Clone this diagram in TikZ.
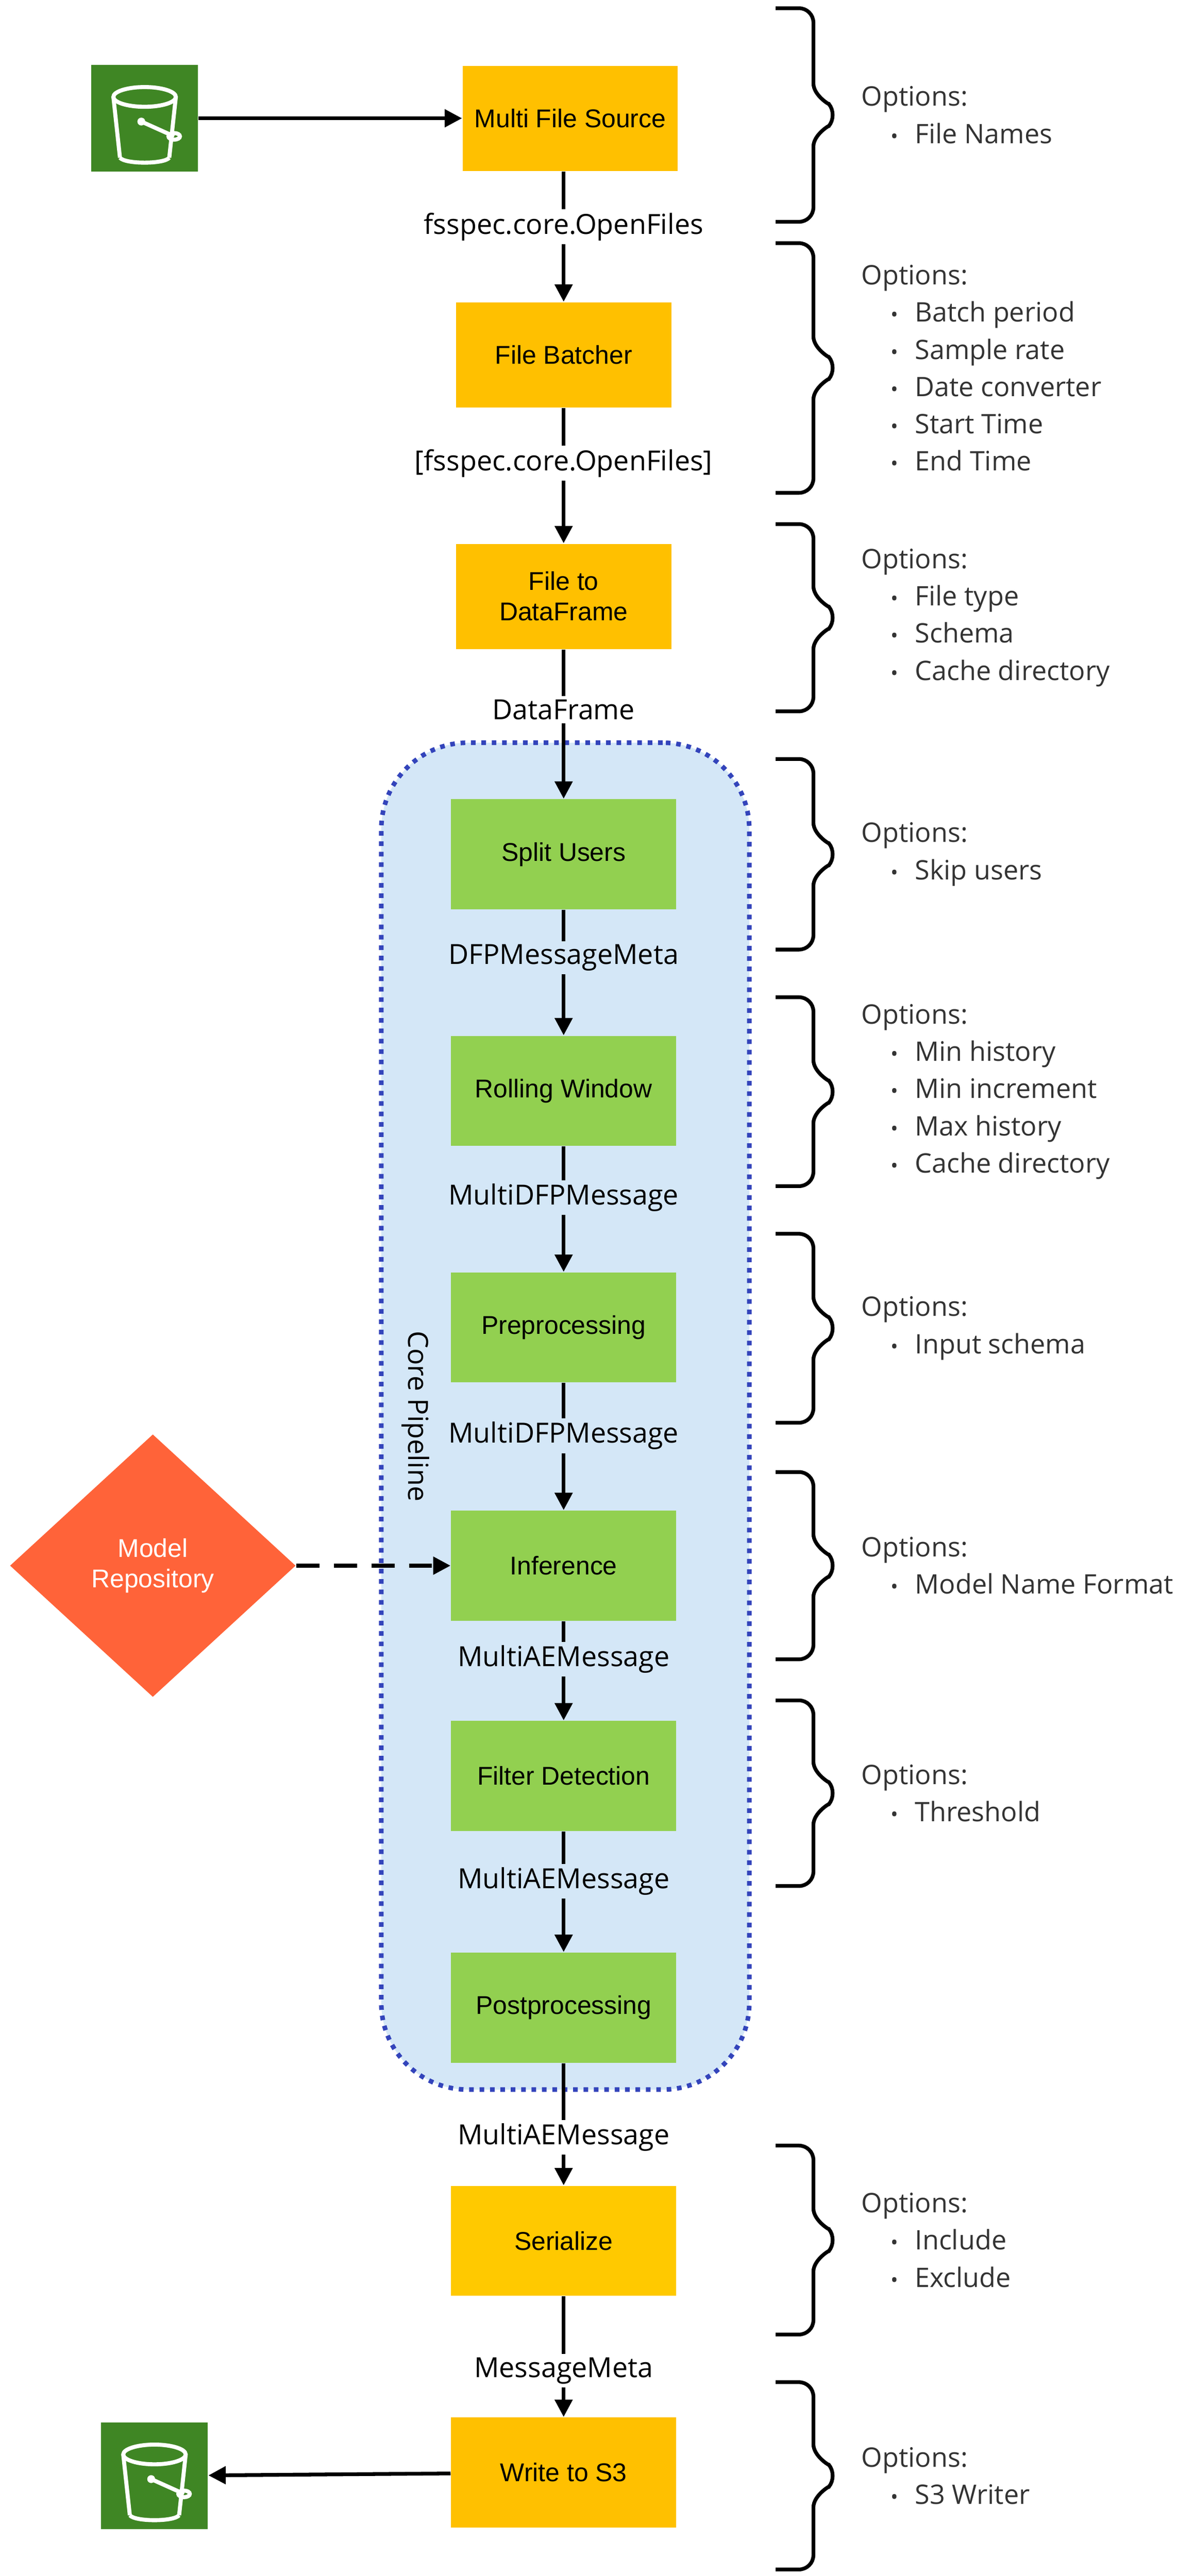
\documentclass[tikz,border=0pt]{standalone}
\usepackage{fontspec}
\setmainfont{Open Sans}
\newfontfamily\boxfont{Liberation Sans}
\usetikzlibrary{positioning,arrows.meta,shapes.geometric}

\definecolor{amber}{HTML}{FFC000}
\definecolor{leaf}{HTML}{92D050}
\definecolor{awsgreen}{HTML}{3F8624}
\definecolor{coral}{HTML}{FF6339}
\definecolor{skyfill}{HTML}{D4E7F7}
\definecolor{dotblue}{HTML}{3344BB}
\definecolor{optgray}{HTML}{333333}

% brace with options list: #1 top, #2 bottom, #3 text
\newcommand{\optbrace}[3]{%
  \draw[line width=1.3pt,rounded corners=5pt] (472,#1) -- (495,#1) -- (495,{(#1+#2)/2-28})
    .. controls (495,{(#1+#2)/2-12}) and (505,{(#1+#2)/2-6}) .. (510,{(#1+#2)/2})
    .. controls (505,{(#1+#2)/2+6}) and (495,{(#1+#2)/2+12}) .. (495,{(#1+#2)/2+28})
    -- (495,#2) -- (472,#2);
  \node[opts] at (518,{(#1+#2)/2}) {Options:#3};}
\newcommand{\itm}[1]{\\\hspace*{0.36cm}{\scriptsize\textbullet}\hspace*{0.2cm}#1}

% S3 bucket icon
\newcommand{\bucket}[1]{%
  \begin{scope}[shift={(#1)},white,line width=1.4pt]
    \draw (-19,-13) -- (-15,24) (19,-13) -- (15,24);
    \draw (0,-13) ellipse (19 and 6);
    \draw (-15,24) .. controls (-12,28) and (12,28) .. (15,24);
    \draw (-2,2) -- (18,11);
    \fill (-2,2) circle (2.4);
    \draw (18,11) ellipse (3.5 and 2);
  \end{scope}}

\begin{document}
\begin{tikzpicture}[x=0.02cm,y=-0.02cm,
  stage/.style={rectangle,fill=amber,minimum width=2.62cm,minimum height=1.28cm,
    font=\boxfont\fontsize{8.9}{10.5}\selectfont,align=center},
  core/.style={stage,fill=leaf,minimum width=2.74cm,minimum height=1.34cm},
  msg/.style={font=\fontsize{9.6}{11}\selectfont,inner sep=1pt,fill=white},
  opts/.style={anchor=west,align=left,text=optgray,font=\fontsize{9.3}{12.9}\selectfont},
  s3/.style={rectangle,fill=awsgreen,minimum size=1.3cm},
  flow/.style={line width=1.3pt,-{Triangle[length=6pt,width=6pt]}},
  link/.style={line width=1.3pt}]
\useasboundingbox (0,0) rectangle (716,1568);

% core pipeline container
\node[draw=dotblue,dotted,line width=1.6pt,fill=skyfill,rounded corners=30pt,
  minimum width=4.48cm,minimum height=16.4cm] (pipe) at (344,862) {};
\node[rotate=-90,font=\fontsize{9.6}{11}\selectfont] (pipelbl) at (253,862) {Core Pipeline};

% stages
\node[stage] (mfs) at (347,72) {Multi File Source};
\node[stage] (batch) at (343,216) {File Batcher};
\node[stage] (todf) at (343,363) {File to\\DataFrame};
\node[core] (split) at (343,520) {Split Users};
\node[core] (roll) at (343,664) {Rolling Window};
\node[core] (prep) at (343,808) {Preprocessing};
\node[core] (infer) at (343,953) {Inference};
\node[core] (filt) at (343,1081) {Filter Detection};
\node[core] (post) at (343,1222) {Postprocessing};
\node[stage,fill=amber!85!yellow,minimum width=2.74cm,minimum height=1.34cm] (ser) at (343,1364) {Serialize};
\node[stage,minimum width=2.74cm,minimum height=1.34cm] (write) at (343,1505) {Write to S3};

% message labels
\node[msg] (m1) at (343,138) {fsspec.core.OpenFiles};
\node[msg] (m2) at (343,282) {[fsspec.core.OpenFiles]};
\node[msg] (m3) at (343,432) {DataFrame};
\node[msg,fill=skyfill] (m4) at (343,583) {DFPMessageMeta};
\node[msg,fill=skyfill] (m5) at (343,729) {MultiDFPMessage};
\node[msg,fill=skyfill] (m6) at (343,874) {MultiDFPMessage};
\node[msg,fill=skyfill] (m7) at (343,1010) {MultiAEMessage};
\node[msg,fill=skyfill] (m8) at (343,1145) {MultiAEMessage};
\node[msg] (m9) at (343,1301) {MultiAEMessage};
\node[msg] (m10) at (343,1443) {MessageMeta};

% s3 icons and model repository
\node[s3] (s3in) at (88,72) {};
\bucket{88,72}
\node[s3] (s3out) at (94,1507) {};
\bucket{94,1507}
\node[diamond,fill=coral,text=white,minimum width=3.48cm,minimum height=3.2cm,inner sep=0pt,
  align=center,font=\boxfont\fontsize{8.9}{10.5}\selectfont] (repo) at (93,953) {Model\\Repository};

% connectors
\draw[flow] (s3in) -- (mfs);
\draw[link] (mfs.south -| m1) -- (m1);  \draw[flow] (m1) -- (batch);
\draw[link] (batch) -- (m2);  \draw[flow] (m2) -- (todf);
\draw[link] (todf) -- (m3);   \draw[flow] (m3) -- (split);
\draw[link] (split) -- (m4);  \draw[flow] (m4) -- (roll);
\draw[link] (roll) -- (m5);   \draw[flow] (m5) -- (prep);
\draw[link] (prep) -- (m6);   \draw[flow] (m6) -- (infer);
\draw[link] (infer) -- (m7);  \draw[flow] (m7) -- (filt);
\draw[link] (filt) -- (m8);   \draw[flow] (m8) -- (post);
\draw[link] (post) -- (m9);   \draw[flow] (m9) -- (ser);
\draw[link] (ser) -- (m10);   \draw[flow] (m10) -- (write);
\draw[flow] (write) -- (s3out);
\draw[flow,dashed,dash pattern=on 8pt off 5pt] (repo) -- (infer);

% options
\optbrace{5}{135}{\itm{File Names}}
\optbrace{148}{300}{\itm{Batch period}\itm{Sample rate}\itm{Date converter}\itm{Start Time}\itm{End Time}}
\optbrace{319}{433}{\itm{File type}\itm{Schema}\itm{Cache directory}}
\optbrace{462}{578}{\itm{Skip users}}
\optbrace{607}{722}{\itm{Min history}\itm{Min increment}\itm{Max history}\itm{Cache directory}}
\optbrace{751}{866}{\itm{Input schema}}
\optbrace{896}{1010}{\itm{Model Name Format}}
\optbrace{1035}{1148}{\itm{Threshold}}
\optbrace{1306}{1421}{\itm{Include}\itm{Exclude}}
\optbrace{1450}{1564}{\itm{S3 Writer}}
\end{tikzpicture}
\end{document}
